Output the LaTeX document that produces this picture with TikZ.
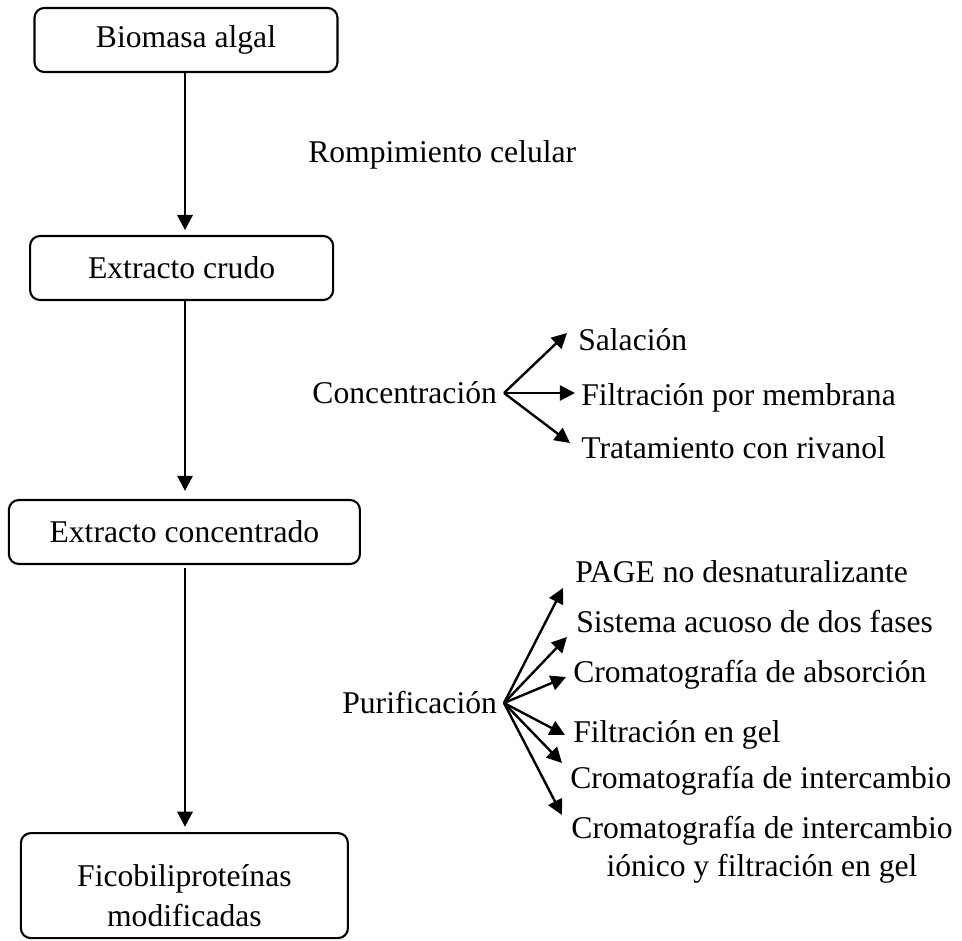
\documentclass[tikz,border=0pt]{standalone}
\usepackage{fontspec}
\setmainfont{Liberation Serif}
\usepackage{tikz}
\usetikzlibrary{arrows.meta, positioning}

\begin{document}
\begin{tikzpicture}[font=\fontsize{22.5}{29}\selectfont,
    stagebox/.style={draw, line width=1.5pt, rounded corners=7pt, minimum height=1.6cm, align=center},
    lbl/.style={inner sep=0pt, anchor=base west},
    fanlbl/.style={inner sep=0.17cm, anchor=east},
    flow/.style={line width=1.9pt, -{Triangle[length=0.38cm, width=0.38cm]}}]
        \useasboundingbox (0,0) rectangle (24.05,-23.5);
        % main sequence
        \node[stagebox, minimum width=7.575cm] (bio) at (4.65,-1.0) {Biomasa algal};
        \node[stagebox, minimum width=7.575cm] (crudo) at (4.54,-6.7) {Extracto crudo};
        \node[stagebox, minimum width=8.775cm] (conc) at (4.61,-13.3) {Extracto concentrado};
        \node[stagebox, minimum width=8.175cm, minimum height=2.625cm, text height=2.06cm,
          text depth=0pt, inner ysep=0.1cm] (fico) at (4.61,-22.14)
          {Ficobiliproteínas\\modificadas};
        \draw[flow, shorten >=0.12cm] (4.625,0 |- bio.south) -- (4.625,0 |- crudo.north);
        \draw[flow, shorten >=0.2cm] (4.625,0 |- crudo.south) -- (4.625,0 |- conc.north);
        \draw[flow, shorten <=0.07cm, shorten >=0.13cm] (4.625,0 |- conc.south) -- (4.625,0 |- fico.north);
        \node[lbl] (romp) at (7.7,-4.05) {Rompimiento celular};
        % concentration
        \node[fanlbl] (concen) at (12.6,-9.825) {Concentración};
        \node[lbl] (sal) at (14.45,-8.75) {Salación};
        \node[lbl] (fmem) at (14.525,-10.125) {Filtración por membrana};
        \node[lbl] (riv) at (14.525,-11.45) {Tratamiento con rivanol};
        \coordinate (tsal) at (14.175,-8.325);
        \coordinate (tfmem) at (14.375,-9.825);
        \coordinate (triv) at (14.25,-11.075);
        \foreach \t in {tsal, tfmem, triv}
          \draw[flow, line width=1.7pt] (concen.east) -- (\t);
        % purification
        \node[fanlbl] (puri) at (12.6,-17.575) {Purificación};
        \node[lbl] (page) at (14.375,-14.55) {PAGE no desnaturalizante};
        \node[lbl] (acuoso) at (14.4,-15.8) {Sistema acuoso de dos fases};
        \node[lbl] (cabs) at (14.325,-17.05) {Cromatografía de absorción};
        \node[lbl] (fgel) at (14.325,-18.55) {Filtración en gel};
        \node[lbl] (cint) at (14.25,-19.7) {Cromatografía de intercambio};
        \node[align=center, inner sep=0pt, font=\fontsize{22.5}{27}\selectfont] (cintgel) at (19.05,-21.25)
          {Cromatografía de intercambio\\iónico y filtración en gel};
        \coordinate (tpage) at (14.075,-14.7);
        \coordinate (tacuoso) at (14.175,-15.925);
        \coordinate (tcabs) at (14.15,-16.925);
        \coordinate (tfgel) at (14.125,-18.375);
        \coordinate (tcint) at (14.05,-19.075);
        \coordinate (tcintgel) at (14.05,-20.375);
        \foreach \t in {tpage, tacuoso, tcabs, tfgel, tcint, tcintgel}
          \draw[flow, line width=1.7pt] (puri.east) -- (\t);
\end{tikzpicture}
\end{document}
